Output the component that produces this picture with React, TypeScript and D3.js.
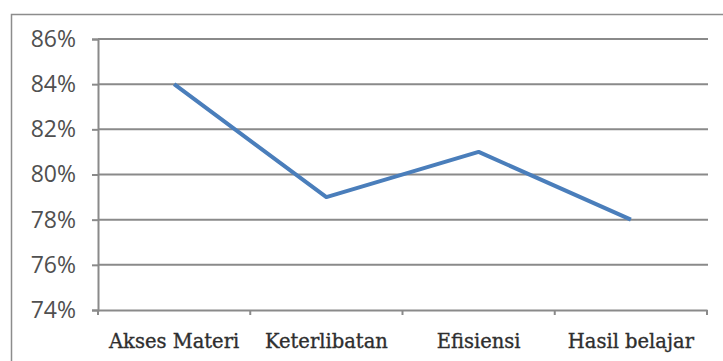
import React, { useEffect, useRef } from "react";
import * as d3 from "d3";

const categories = ["Akses Materi", "Keterlibatan", "Efisiensi", "Hasil belajar"];
const values = [84, 79, 81, 78];
const yTicks = [74, 76, 78, 80, 82, 84, 86];

const W = 723;
const H = 361;
const M = { left: 98, right: 707, top: 39, bottom: 310 };

export default function App() {
  const ref = useRef<SVGSVGElement>(null);
  useEffect(() => {
    const svg = d3.select(ref.current);
    svg.selectAll("*").remove();

    svg.append("rect").attr("width", W).attr("height", H).attr("fill", "#fff");
    // outer chart border (cropped on right/bottom)
    svg.append("path")
      .attr("d", `M11.5,${H + 2}V14.5H${W + 2}`)
      .attr("fill", "none").attr("stroke", "#8c8c8c").attr("stroke-width", 1.5);

    const x = d3.scaleBand<string>().domain(categories).range([M.left, M.right]);
    const y = d3.scaleLinear().domain([74, 86]).range([M.bottom, M.top]);

    // gridlines
    const g = svg.append("g");
    yTicks.forEach((t) => {
      if (t === 74) return;
      g.append("line")
        .attr("x1", M.left).attr("x2", M.right + 1)
        .attr("y1", y(t)).attr("y2", y(t))
        .attr("stroke", "#8a8a8a").attr("stroke-width", 2);
    });

    // y axis
    const yAxis = svg.append("g").attr("transform", `translate(${M.left},0)`)
      .call(d3.axisLeft(y).tickValues(yTicks).tickSize(6).tickPadding(16).tickFormat((d) => `${d}%`));
    yAxis.select(".domain").attr("stroke", "#8a8a8a").attr("stroke-width", 2);
    yAxis.selectAll(".tick line").attr("stroke", "#8a8a8a").attr("stroke-width", 2);
    yAxis.selectAll(".tick text")
      .attr("fill", "#505050").attr("font-family", "'Open Sans', sans-serif").attr("font-size", 23);

    // x axis
    const xAxis = svg.append("g").attr("transform", `translate(0,${M.bottom})`)
      .call(d3.axisBottom(x).tickSize(0).tickPadding(24));
    xAxis.select(".domain").attr("stroke", "#8a8a8a").attr("stroke-width", 2);
    xAxis.selectAll(".tick text")
      .attr("fill", "#2e2e2e").attr("stroke", "#2e2e2e").attr("stroke-width", 0.35)
      .attr("font-family", "'DejaVu Serif', serif").attr("font-size", 19.5);
    const edges = [M.left, ...categories.map((c) => (x(c) as number) + x.bandwidth())];
    edges.forEach((e) => {
      svg.append("line").attr("x1", e).attr("x2", e)
        .attr("y1", M.bottom).attr("y2", M.bottom + 5)
        .attr("stroke", "#8a8a8a").attr("stroke-width", 2);
    });

    const line = d3.line<number>()
      .x((_, i) => (x(categories[i]) as number) + x.bandwidth() / 2)
      .y((d) => y(d));
    svg.append("path").datum(values)
      .attr("d", line)
      .attr("fill", "none").attr("stroke", "#4a7ebb").attr("stroke-width", 4)
      .attr("stroke-linejoin", "round");
  }, []);
  return (
    <svg ref={ref} width={W} height={H}
      style={{ position: "absolute", left: 0, top: 0, display: "block" }} />
  );
}
